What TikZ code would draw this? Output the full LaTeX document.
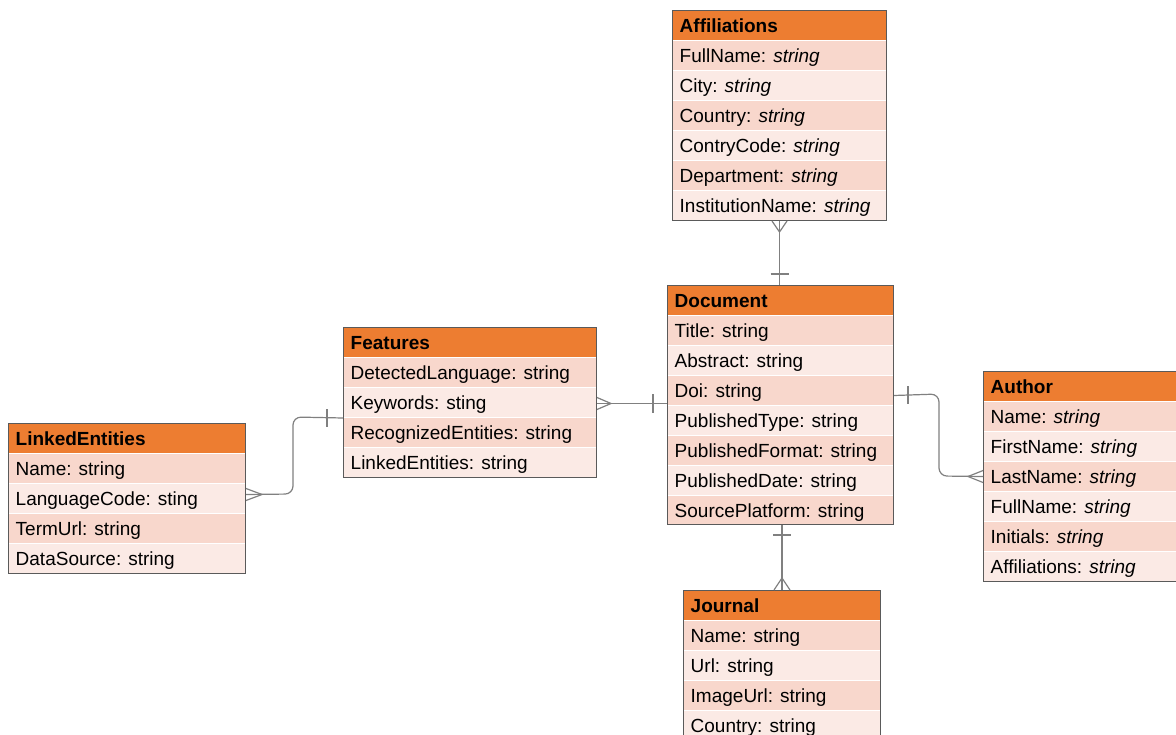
\documentclass[tikz,border=0pt]{standalone}
\usepackage{fontspec}
\setmainfont{Liberation Sans}
\usetikzlibrary{calc}
\definecolor{hdrorange}{HTML}{ED7D31}
\definecolor{rowdark}{HTML}{F8D7CC}
\definecolor{rowlight}{HTML}{FBEAE5}
\definecolor{framegray}{HTML}{5A5A5A}
\definecolor{linkgray}{HTML}{808080}
\tikzset{
  hdr/.style={fill=hdrorange, draw=white, line width=1pt, anchor=north west, minimum height=30pt, inner sep=0pt},
  rowbox/.style={draw=white, line width=1pt, anchor=north west, minimum height=30pt, inner sep=0pt},
  lbl/.style={anchor=base west, inner sep=0pt, font=\fontsize{19}{21}\selectfont, text=black},
  hdrlbl/.style={lbl, font=\fontsize{19}{21}\selectfont\bfseries},
  tframe/.style={draw=framegray, line width=1pt, anchor=north west, inner sep=0pt},
  link/.style={draw=linkgray, line width=1.2pt, rounded corners=8pt},
  endmark/.style={draw=linkgray, line width=1.2pt},
}
\newcommand{\ertable}[7]{%
  \node[hdr, minimum width=#4pt] (#1-h) at (#2,#3) {};
  \node[hdrlbl] (#1-ht) at ($(#1-h.west)+(7.5,7)$) {#5};
  \foreach [count=\i] \r in {#7} {
    \ifodd\i \def\rc{rowdark}\else\def\rc{rowlight}\fi
    \node[rowbox, fill=\rc, minimum width=#4pt] (#1-\i) at (#2,{#3+30*\i}) {};
    \node[lbl] (#1-\i-t) at ($(#1-\i.west)+(7.5,7)$) {\r};
  }
  \node[tframe, minimum width=#4pt, minimum height=#6pt] (#1) at (#2,#3) {};
}
\begin{document}
\begin{tikzpicture}[x=1pt, y=-1pt]
\useasboundingbox (0,0) rectangle (1176,735);
\clip (0,0) rectangle (1176,735);
\fill[white] (0,0) rectangle (1176,735);

\ertable{aff}{672}{10}{214}{Affiliations}{210}{FullName: \textit{string}, City: \textit{string}, Country: \textit{string}, ContryCode: \textit{string}, Department: \textit{string}, InstitutionName: \textit{string}}
\ertable{doc}{667}{285}{226}{Document}{239}{Title: string, Abstract: string, Doi: string, PublishedType: string, PublishedFormat: string, PublishedDate: string, SourcePlatform: string}
\ertable{feat}{343}{327}{253}{Features}{150}{DetectedLanguage: string, Keywords: sting, RecognizedEntities: string, LinkedEntities: string}
\ertable{le}{8}{423}{237}{LinkedEntities}{150}{Name: string, LanguageCode: sting, TermUrl: string, DataSource: string}
\ertable{auth}{983}{371}{230}{Author}{210}{Name: \textit{string}, FirstName: \textit{string}, LastName: \textit{string}, FullName: \textit{string}, Initials: \textit{string}, Affiliations: \textit{string}}
\ertable{jour}{683}{590}{197}{Journal}{150}{Name: string, Url: string, ImageUrl: string, Country: string}

% Affiliations (many) -- Document (one)
\coordinate (a1) at ($(aff.south)+(0,0)$);
\coordinate (a2) at (a1 |- doc.north);
\draw[link] (a1) -- (a2);
\draw[endmark] ($(a1)+(-7.5,0)$) -- ($(a1)+(0,11)$) -- ($(a1)+(7.5,0)$);
\draw[endmark] ($(a2)+(-9,-11)$) -- ($(a2)+(9,-11)$);

% Features (many) -- Document (one)
\coordinate (f1) at ($(feat-2.east)+(0,1)$);
\coordinate (f2) at (doc.west |- f1);
\draw[link] (f1) -- (f2);
\draw[endmark] ($(f1)+(0,-6)$) -- ($(f1)+(14,0)$) -- ($(f1)+(0,6)$);
\draw[endmark] ($(f2)+(-14,-9)$) -- ($(f2)+(-14,9)$);

% LinkedEntities (many) -- Features (one)
\coordinate (l1) at ($(le-2.east)+(0,-4)$);
\coordinate (l2) at (feat-2.south west);
\draw[link] (l1) -- (293,494) -- (293,417) -- (l2);
\draw[endmark] ($(l1)+(0,-6)$) -- ($(l1)+(16,0)$) -- ($(l1)+(0,6)$);
\draw[endmark] ($(l2)+(-16,-9)$) -- ($(l2)+(-16,9)$);

% Document (one) -- Author (many)
\coordinate (d1) at ($(doc-3.east)+(0,5)$);
\coordinate (d2) at (auth-3.west);
\draw[link] (d1) -- (939,394) -- (939,476) -- (d2);
\draw[endmark] ($(d1)+(14,-9)$) -- ($(d1)+(14,9)$);
\draw[endmark] ($(d2)+(0,-6)$) -- ($(d2)+(-15,0)$) -- ($(d2)+(0,6)$);

% Document (one) -- Journal (many)
\coordinate (j1) at (jour.north);
\coordinate (j2) at (j1 |- doc.south);
\draw[link] (j2) -- (j1);
\draw[endmark] ($(j2)+(-9,10)$) -- ($(j2)+(9,10)$);
\draw[endmark] ($(j1)+(-8,0)$) -- ($(j1)+(0,-12)$) -- ($(j1)+(8,0)$);
\end{tikzpicture}
\end{document}
